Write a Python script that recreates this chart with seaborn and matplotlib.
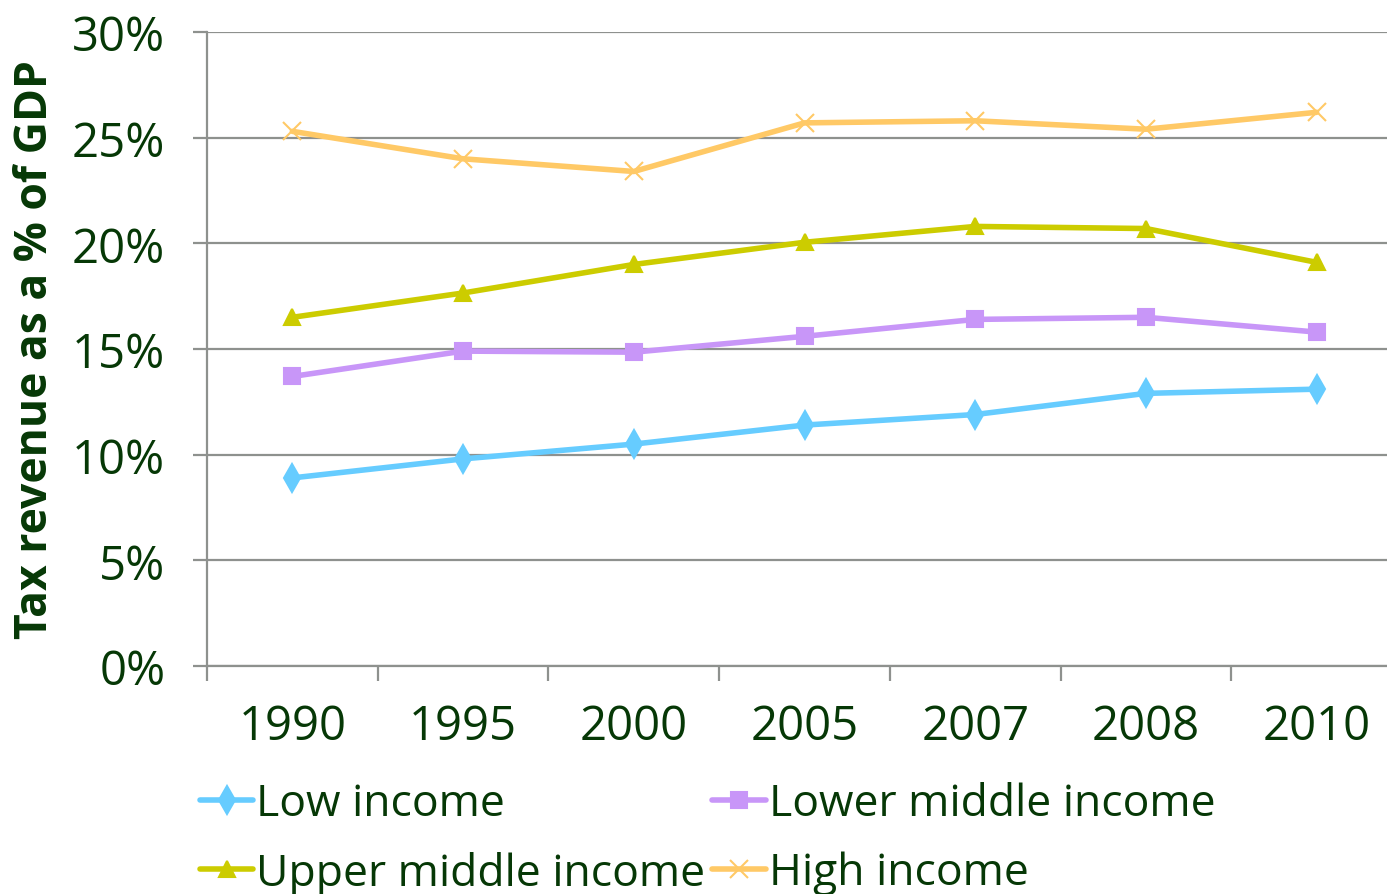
import matplotlib
matplotlib.use("Agg")
import matplotlib.pyplot as plt
import seaborn as sns
import pandas as pd
from matplotlib.ticker import FuncFormatter, FixedLocator

# data (tax revenue, % of GDP)
years = ["1990", "1995", "2000", "2005", "2007", "2008", "2010"]
low_income = [8.9, 9.8, 10.5, 11.4, 11.9, 12.9, 13.1]
lower_middle = [13.7, 14.9, 14.85, 15.6, 16.4, 16.5, 15.8]
upper_middle = [16.5, 17.65, 19.0, 20.05, 20.8, 20.7, 19.1]
high_income = [25.3, 24.0, 23.4, 25.7, 25.8, 25.4, 26.2]

series_names = ["Low income", "Lower middle income", "Upper middle income", "High income"]
series_vals = [low_income, lower_middle, upper_middle, high_income]
colors = ["#66ccff", "#c896f8", "#cccc00", "#ffc966"]
markers = ["d", "s", "^", "x"]
msizes = [14, 12, 12, 13]

text_col = "#063806"
grid_col = "#8e918e"

sns.set_theme(style="white")
plt.rcParams["font.family"] = ["Open Sans", "DejaVu Sans"]

fig = plt.figure(figsize=(13.87, 8.95), dpi=100)
ax = fig.add_axes([207 / 1387, 228 / 895, 1195 / 1387, 634 / 895])

for name, vals, c, m, ms in zip(series_names, series_vals, colors, markers, msizes):
    df = pd.DataFrame({"year": years, "value": vals})
    sns.lineplot(data=df, x="year", y="value", ax=ax, color=c, linewidth=4.0,
                 marker=m, markersize=ms, markeredgecolor=c, markeredgewidth=1.5,
                 label=name, sort=False, legend=False)

ax.set_ylim(0, 30)
ax.set_xlim(-0.5, 6.5)
ax.set_yticks(range(0, 31, 5))
ax.yaxis.set_major_formatter(FuncFormatter(lambda v, p: f"{v:.0f}%"))
ax.grid(axis="y", color=grid_col, linewidth=1.6)
ax.set_axisbelow(True)
for s in ["top", "right"]:
    ax.spines[s].set_visible(False)
for s in ["left", "bottom"]:
    ax.spines[s].set_color(grid_col)
    ax.spines[s].set_linewidth(1.6)

ax.xaxis.set_minor_locator(FixedLocator([i - 0.5 for i in range(8)]))
ax.tick_params(axis="x", which="major", length=0, pad=26, labelsize=34, labelcolor=text_col)
ax.tick_params(axis="x", which="minor", length=11, width=1.6, color=grid_col, bottom=True)
ax.tick_params(axis="y", length=10, width=1.6, color=grid_col, left=True, pad=20,
               labelsize=34, labelcolor=text_col)
ax.set_xlabel("")
ax.set_ylabel("")

fig.text(36 / 1387, 1 - 350 / 895, "Tax revenue as a % of GDP", rotation=90,
         ha="center", va="center", fontsize=32, fontweight="bold", color=text_col)

# legend is filled row by row in the reference
handles, labels = ax.get_legend_handles_labels()
order = [0, 2, 1, 3]
leg = fig.legend([handles[i] for i in order], [labels[i] for i in order], ncol=2,
                 loc="upper left", bbox_to_anchor=(200 / 1387, 1 - 783 / 895), frameon=False,
                 fontsize=32, handlelength=1.2, handletextpad=0.07,
                 columnspacing=0.15, labelspacing=0.55, borderpad=0, borderaxespad=0)
for t in leg.get_texts():
    t.set_color(text_col)

fig.savefig("out.png", dpi=100)
